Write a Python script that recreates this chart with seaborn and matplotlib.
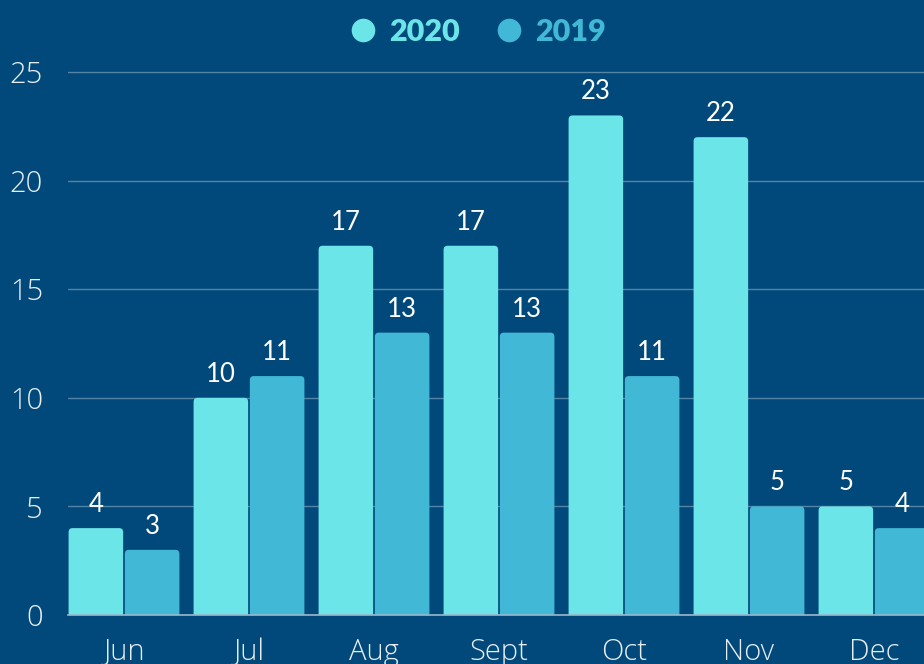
import matplotlib
matplotlib.use("Agg")
import matplotlib.pyplot as plt
from matplotlib.patches import FancyBboxPatch
from matplotlib.lines import Line2D
import seaborn as sns
import pandas as pd

months = ["Jun", "Jul", "Aug", "Sept", "Oct", "Nov", "Dec"]
values_2020 = [4, 10, 17, 17, 23, 22, 5]
values_2019 = [3, 11, 13, 13, 11, 5, 4]
series = ["2020", "2019"]
y_ticks = [0, 5, 10, 15, 20, 25]

BG = "#01497a"
C2020 = "#6ce5e8"
C2019 = "#41b8d5"

df = pd.DataFrame({
    "month": months * 2,
    "value": values_2020 + values_2019,
    "year": [series[0]] * len(months) + [series[1]] * len(months),
})

sns.set_theme(style="dark")
plt.rcParams["font.family"] = ["Open Sans", "DejaVu Sans"]

W, H = 924, 664
fig = plt.figure(figsize=(W / 100, H / 100), dpi=100, facecolor=BG)
ax_left = 68 / W
ax_bottom = (H - 615) / H
ymax = 25.5
px_per_unit = (615 - 72) / 25
ax_h = ymax * px_per_unit / H
ax = fig.add_axes([ax_left, ax_bottom, 1 - ax_left, ax_h])
ax.set_facecolor(BG)

sns.barplot(data=df, x="month", y="value", hue="year", order=months,
            hue_order=series, palette=[C2020, C2019], width=0.9, gap=0.03,
            ax=ax, legend=False, saturation=1, edgecolor="none")

ax.set_xlim(-0.448, 6.4)
ax.set_ylim(0, ymax)

# rounded top corners
px_x = (W - 68) / (6.4 + 0.448)
aspect = (1 / px_per_unit) / (1 / px_x)
r = 4 / px_x
bars = list(ax.patches)
for p in bars:
    x, y, w, h = p.get_x(), p.get_y(), p.get_width(), p.get_height()
    fc = p.get_facecolor()
    p.remove()
    ext = r * aspect
    fb = FancyBboxPatch((x, y - ext), w, h + ext,
                        boxstyle=f"round,pad=0,rounding_size={r}",
                        mutation_aspect=aspect, facecolor=fc,
                        edgecolor="none", zorder=2)
    ax.add_patch(fb)
    ax.text(x + w / 2, h + 11 / px_per_unit, f"{int(round(h))}",
            ha="center", va="bottom", color="white", fontsize=18.5,
            family=["Lato", "DejaVu Sans"], zorder=3)

ax.set_yticks(y_ticks)
ax.set_yticklabels([str(t) for t in y_ticks])
ax.grid(axis="y", color="#5585a6", linewidth=1, zorder=0)
ax.grid(axis="x", visible=False)
ax.set_axisbelow(True)
for s in ["top", "right", "left"]:
    ax.spines[s].set_visible(False)
ax.spines["bottom"].set_color("#9ab8cc")
ax.spines["bottom"].set_linewidth(1.2)
ax.spines["bottom"].set_zorder(4)
ax.tick_params(axis="y", length=0, pad=18, labelsize=21, labelcolor="#e6eef3")
ax.tick_params(axis="x", length=0, pad=16, labelsize=21, labelcolor="#e6eef3")
for lab in ax.get_xticklabels() + ax.get_yticklabels():
    lab.set_fontweight("light")
ax.set_xlabel("")
ax.set_ylabel("")

handles = [Line2D([0], [0], marker="o", linestyle="none", markersize=17,
                  markerfacecolor=c, markeredgecolor="none") for c in (C2020, C2019)]
leg = fig.legend(handles, series, loc="center", bbox_to_anchor=(477 / W, 1 - 32 / H),
                 ncol=2, frameon=False, handlelength=1.0, handletextpad=0.35,
                 columnspacing=1.1,
                 prop={"family": ["Lato", "DejaVu Sans"], "weight": "heavy", "size": 22})
for t, c in zip(leg.get_texts(), (C2020, C2019)):
    t.set_color(c)

fig.savefig("out.png", dpi=100, facecolor=BG)
